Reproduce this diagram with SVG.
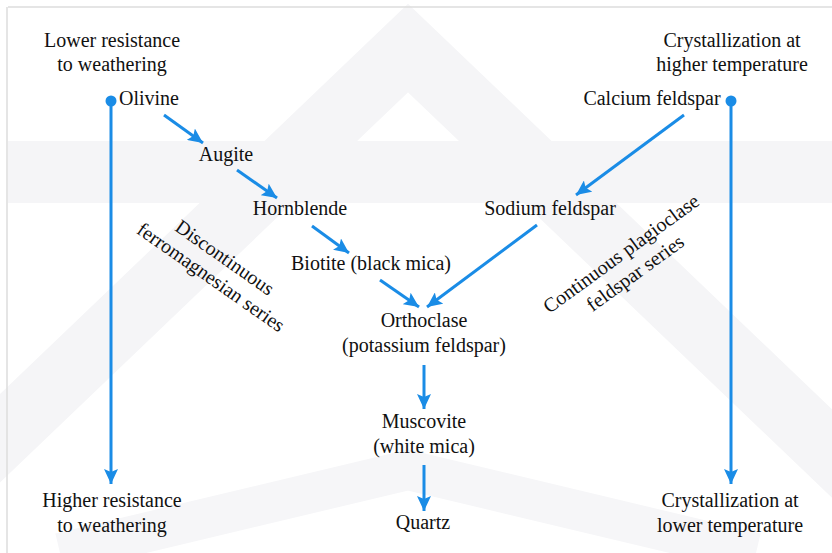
<svg xmlns="http://www.w3.org/2000/svg" width="832" height="553" viewBox="0 0 832 553">
<defs>
<style>
.t{font-family:"Liberation Serif","Times New Roman",serif;font-size:20px;fill:#111;text-anchor:middle}
.s{font-family:"Liberation Serif","Times New Roman",serif;font-size:20px;fill:#111}
.c{stroke:#1a8ce6;stroke-width:3;fill:none;marker-end:url(#ah)}
.wm{fill:#f5f5f7}
</style>
<marker id="ah" markerUnits="userSpaceOnUse" markerWidth="16" markerHeight="14" refX="15" refY="7" orient="auto">
<path d="M0,0 L15,7 L0,14 L3,7 z" fill="#1a8ce6"/>
</marker>
</defs>
<rect width="832" height="553" fill="#fff"/>
<g id="watermark">
<polyline points="-120,553 408,48 936,553" fill="none" stroke="#f5f5f7" stroke-width="64"/>
<rect x="8" y="141" width="824" height="62" class="wm"/>
<polyline points="60,553 408,470 756,553" fill="none" stroke="#f6f6f8" stroke-width="40"/>
</g>
<line x1="8" y1="7" x2="832" y2="7" stroke="#dcdcdc" stroke-width="1.5"/>
<line x1="7" y1="7" x2="7" y2="553" stroke="#dcdcdc" stroke-width="1.5"/>

<g id="connectors">
<line class="c" x1="111" y1="101" x2="111" y2="484"/>
<line class="c" x1="731" y1="101" x2="731" y2="484"/>
<line class="c" x1="164" y1="115" x2="203" y2="143"/>
<line class="c" x1="237" y1="170" x2="277" y2="198"/>
<line class="c" x1="312" y1="226" x2="349" y2="253"/>
<line class="c" x1="380" y1="280" x2="419" y2="307"/>
<line class="c" x1="537" y1="225" x2="427" y2="307"/>
<line class="c" x1="684" y1="115" x2="576" y2="195"/>
<line class="c" x1="424" y1="365" x2="424" y2="409"/>
<line class="c" x1="424" y1="465" x2="424" y2="511"/>
<circle cx="111" cy="101" r="5.5" fill="#1a8ce6"/>
<circle cx="731" cy="101" r="5.5" fill="#1a8ce6"/>
</g>

<g id="lower-resistance"><text class="t" x="112" y="47">Lower resistance</text><text class="t" x="112" y="71">to weathering</text></g>
<g id="higher-temp"><text class="t" x="732" y="47">Crystallization at</text><text class="t" x="732" y="71">higher temperature</text></g>
<g id="olivine"><text class="s" x="119" y="105">Olivine</text></g>
<g id="calcium-feldspar"><text class="t" x="652" y="105">Calcium feldspar</text></g>
<g id="augite"><text class="t" x="226" y="161">Augite</text></g>
<g id="hornblende"><text class="t" x="300" y="215">Hornblende</text></g>
<g id="sodium-feldspar"><text class="t" x="550" y="215">Sodium feldspar</text></g>
<g id="biotite"><text class="t" x="371" y="270">Biotite (black mica)</text></g>
<g id="orthoclase"><text class="t" x="424" y="327">Orthoclase</text><text class="t" x="424" y="352">(potassium feldspar)</text></g>
<g id="muscovite"><text class="t" x="424" y="428">Muscovite</text><text class="t" x="424" y="453">(white mica)</text></g>
<g id="quartz"><text class="t" x="423" y="529">Quartz</text></g>
<g id="higher-resistance"><text class="t" x="112" y="507">Higher resistance</text><text class="t" x="112" y="532">to weathering</text></g>
<g id="lower-temp"><text class="t" x="730" y="507">Crystallization at</text><text class="t" x="730" y="532">lower temperature</text></g>
<g id="discontinuous" transform="translate(221,263) rotate(35)"><text class="t" x="0" y="0">Discontinuous</text><text class="t" x="0" y="24">ferromagnesian series</text></g>
<g id="continuous" transform="translate(625,259) rotate(-36)"><text class="t" x="0" y="0">Continuous plagioclase</text><text class="t" x="0" y="24">feldspar series</text></g>
</svg>
